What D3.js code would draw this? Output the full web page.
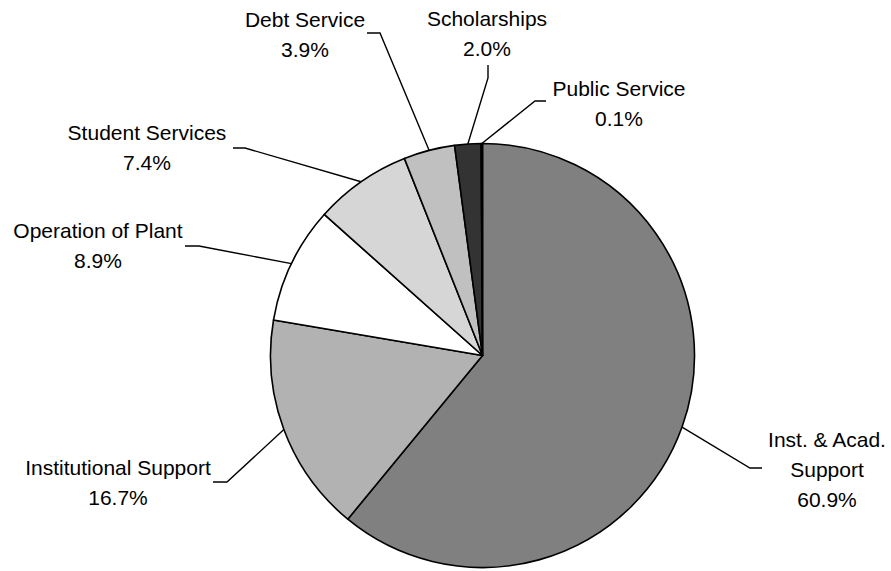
<!DOCTYPE html>
<html>
<head>
<meta charset="utf-8">
<script src="https://cdn.jsdelivr.net/npm/d3@7"></script>
<style>
  html, body { margin: 0; padding: 0; background: #ffffff; }
  svg { display: block; }
  text { font-family: "Liberation Sans", Arial, sans-serif; font-size: 21px; fill: #000; }
</style>
</head>
<body>
<svg id="chart" width="891" height="571"></svg>
<script>
// ---- Data ----
const categories = ["Inst. & Acad. Support", "Institutional Support", "Operation of Plant",
                    "Student Services", "Debt Service", "Scholarships", "Public Service"];
const values = [60.9, 16.7, 8.9, 7.4, 3.9, 2.0, 0.1];
const labelLines = [["Inst. & Acad.", "Support"], ["Institutional Support"], ["Operation of Plant"],
                    ["Student Services"], ["Debt Service"], ["Scholarships"], ["Public Service"]];

// ---- Styles / layout ----
const colors = ["#808080", "#b2b2b2", "#ffffff", "#d6d6d6", "#c0c0c0", "#333333", "#969696"];
const cx = 482.5, cy = 355.5, radius = 212;
const lineGap = 30;
const labelLayout = [
  { x: 827, y: 447, elbow: [750, 468], end: [762, 468] },
  { x: 118, y: 475, elbow: [227, 482], end: [213, 482] },
  { x: 98,  y: 238, elbow: [199, 246], end: [185, 246] },
  { x: 147, y: 140, elbow: [245, 148], end: [233, 148] },
  { x: 305, y: 27,  elbow: [380, 33],  end: [367, 33] },
  { x: 487, y: 26,  elbow: [488, 78],  end: [488, 65] },
  { x: 619, y: 96,  elbow: [535, 101], end: [546, 101] }
];

const data = categories.map((c, i) => ({ name: c, value: values[i], idx: i }));

const svg = d3.select("#chart");
const g = svg.append("g").attr("transform", `translate(${cx},${cy})`);

const pie = d3.pie().sort(null).value(d => d.value);
const arc = d3.arc().innerRadius(0).outerRadius(radius);
const arcs = pie(data);

g.selectAll("path.slice")
  .data(arcs)
  .enter().append("path")
  .attr("class", "slice")
  .attr("d", arc)
  .attr("fill", d => colors[d.data.idx])
  .attr("stroke", "#000")
  .attr("stroke-width", 1.6)
  .attr("stroke-linejoin", "round");

// leader lines
const edgeArc = d3.arc().innerRadius(radius).outerRadius(radius);
const leaders = svg.append("g");
arcs.forEach(d => {
  const L = labelLayout[d.data.idx];
  const p = edgeArc.centroid(d);
  const pts = [[p[0] + cx, p[1] + cy], L.elbow, L.end];
  leaders.append("path")
    .attr("d", d3.line()(pts))
    .attr("fill", "none")
    .attr("stroke", "#000")
    .attr("stroke-width", 1.4);
});

// labels
const labels = svg.append("g");
arcs.forEach(d => {
  const L = labelLayout[d.data.idx];
  const lines = labelLines[d.data.idx].concat([d.data.value.toFixed(1) + "%"]);
  const t = labels.append("text")
    .attr("text-anchor", "middle")
    .attr("x", L.x)
    .attr("y", L.y);
  lines.forEach((ln, k) => {
    t.append("tspan").attr("x", L.x).attr("y", L.y + k * lineGap).text(ln);
  });
});
</script>
</body>
</html>
